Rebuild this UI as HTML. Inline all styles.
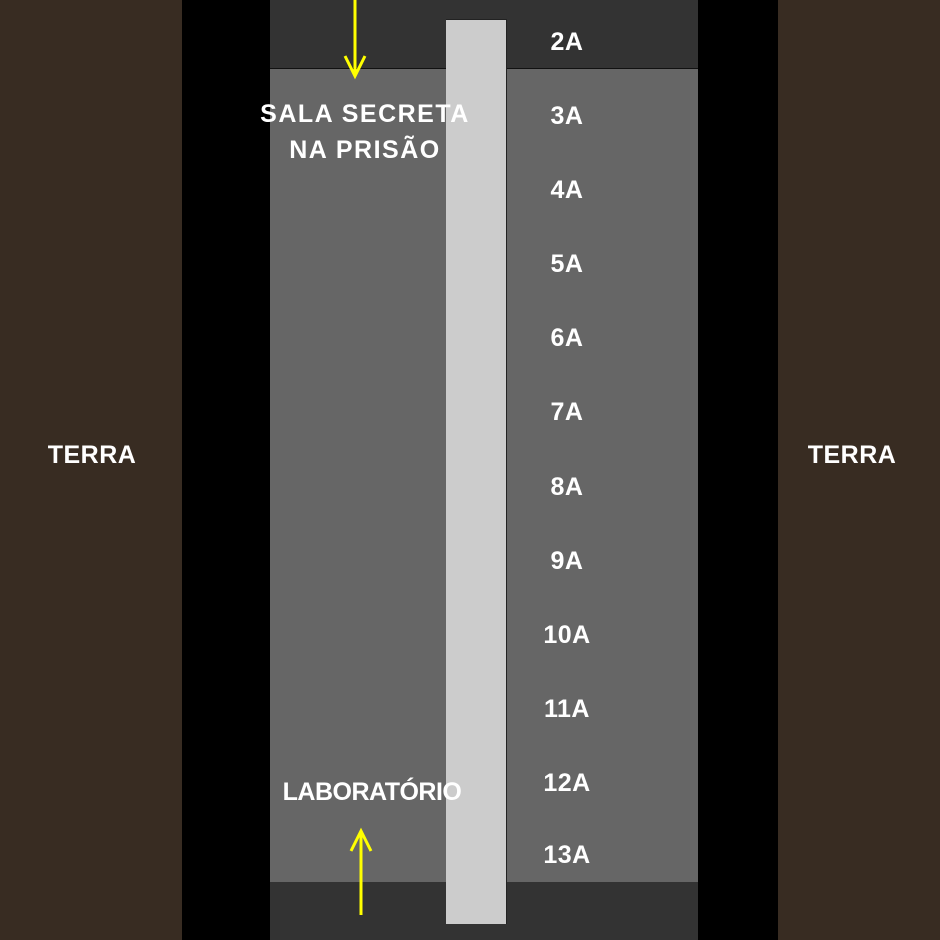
<!DOCTYPE html>
<html><head><style>
body{margin:0;width:940px;height:940px;position:relative;overflow:hidden;background:#000;font-family:"Liberation Sans",sans-serif;color:#fff}
div{position:absolute}
.t{font-size:25px;font-weight:bold;text-align:center;width:120px;margin-left:-60px;line-height:30px;letter-spacing:0.5px}
</style></head><body>
<div style="left:0;top:0;width:182px;height:940px;background:#382c22"></div>
<div style="left:778px;top:0;width:162px;height:940px;background:#382c22"></div>
<div style="left:270px;top:0;width:428px;height:68px;background:#333"></div>
<div style="left:270px;top:68px;width:428px;height:1px;background:#111"></div>
<div style="left:270px;top:69px;width:428px;height:813px;background:#666"></div>
<div style="left:270px;top:882px;width:428px;height:58px;background:#333"></div>
<div style="left:446px;top:19px;width:60px;height:904px;background:#ccc;border-top:1px solid #222;border-right:1px solid #222"></div>
<svg style="position:absolute;left:0;top:0" width="940" height="940">
<g stroke="#ffff00" stroke-width="3" fill="none">
<line x1="355" y1="0" x2="355" y2="76"/><polyline points="345,56 355,76 365,56"/>
<line x1="361" y1="915" x2="361" y2="831"/><polyline points="351,851 361,831 371,851"/>
</g></svg>
<div class="t" style="left:92px;top:440px;width:140px;margin-left:-70px">TERRA</div>
<div class="t" style="left:852px;top:440px;width:140px;margin-left:-70px">TERRA</div>
<div class="t" style="left:365px;top:96px;width:260px;margin-left:-130px;line-height:36px;letter-spacing:1.5px">SALA SECRETA<br>NA PRISÃO</div>
<div class="t" style="left:372px;top:777px;width:240px;margin-left:-120px;letter-spacing:-0.5px">LABORATÓRIO</div>
<div class="t" style="left:567px;top:27px">2A</div>
<div class="t" style="left:567px;top:101px">3A</div>
<div class="t" style="left:567px;top:175px">4A</div>
<div class="t" style="left:567px;top:249px">5A</div>
<div class="t" style="left:567px;top:323px">6A</div>
<div class="t" style="left:567px;top:397px">7A</div>
<div class="t" style="left:567px;top:472px">8A</div>
<div class="t" style="left:567px;top:546px">9A</div>
<div class="t" style="left:567px;top:620px">10A</div>
<div class="t" style="left:567px;top:694px">11A</div>
<div class="t" style="left:567px;top:768px">12A</div>
<div class="t" style="left:567px;top:840px">13A</div>
</body></html>
